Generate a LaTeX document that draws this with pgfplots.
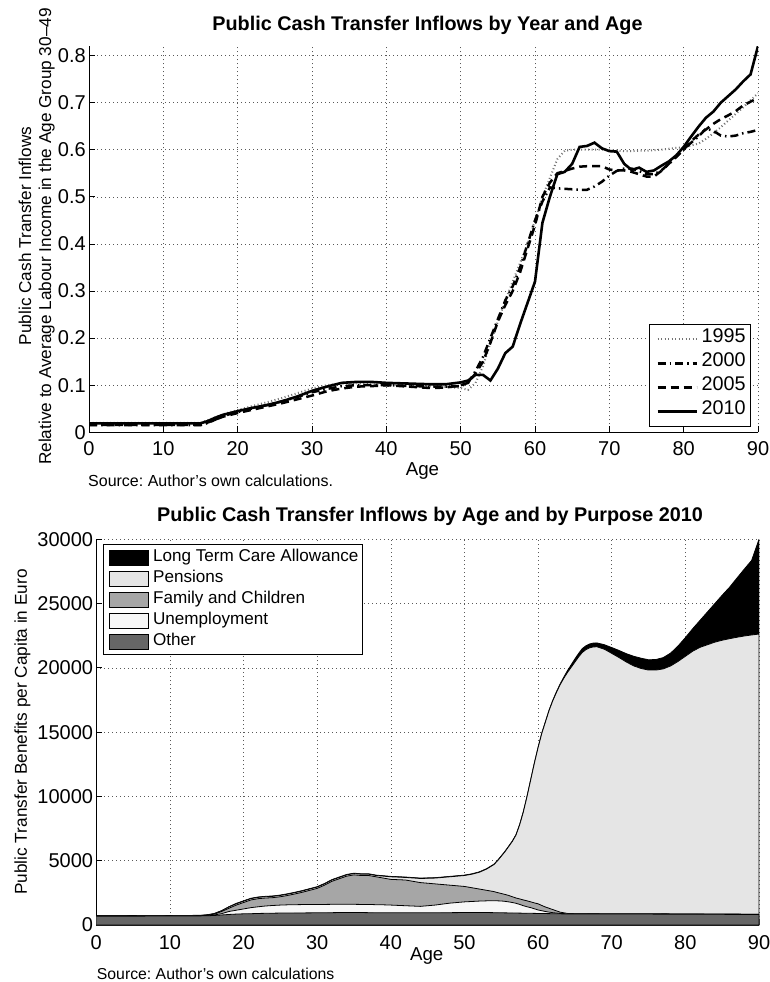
\documentclass[border=0pt]{standalone}
\usepackage{fontspec}
\setmainfont{Liberation Sans}
\usepackage{pgfplots}
\usepackage{pgfplotstable}
\pgfplotsset{compat=1.18}
\frenchspacing

\pgfplotstableread{
age y1995 y2000 y2005 y2010
0 0.020 0.015 0.016 0.019
15 0.020 0.015 0.016 0.019
16 0.026 0.020 0.021 0.024
17 0.032 0.027 0.027 0.031
18 0.038 0.034 0.033 0.037
19 0.043 0.039 0.037 0.041
20 0.047 0.043 0.041 0.045
22 0.056 0.051 0.048 0.052
24 0.064 0.058 0.055 0.058
26 0.073 0.066 0.062 0.066
28 0.083 0.075 0.070 0.076
30 0.093 0.085 0.078 0.088
32 0.100 0.092 0.087 0.097
34 0.104 0.098 0.093 0.105
36 0.104 0.100 0.097 0.107
38 0.102 0.100 0.098 0.107
40 0.100 0.100 0.100 0.105
42 0.100 0.099 0.098 0.104
44 0.099 0.098 0.096 0.103
46 0.098 0.097 0.094 0.102
48 0.096 0.097 0.095 0.102
50 0.094 0.098 0.100 0.106
51 0.090 0.105 0.105 0.110
52 0.105 0.130 0.125 0.122
53 0.140 0.160 0.150 0.122
54 0.190 0.200 0.190 0.110
55 0.235 0.240 0.235 0.135
56 0.280 0.280 0.270 0.168
57 0.320 0.310 0.300 0.182
58 0.360 0.350 0.340 0.230
59 0.400 0.400 0.390 0.275
60 0.450 0.450 0.440 0.320
61 0.500 0.490 0.500 0.445
62 0.540 0.520 0.530 0.500
63 0.580 0.518 0.550 0.548
64 0.598 0.517 0.555 0.553
65 0.600 0.516 0.560 0.570
66 0.600 0.515 0.564 0.606
67 0.600 0.515 0.565 0.608
68 0.600 0.522 0.565 0.615
69 0.600 0.532 0.565 0.603
70 0.600 0.545 0.558 0.597
71 0.598 0.555 0.556 0.596
72 0.597 0.560 0.556 0.570
73 0.597 0.560 0.553 0.557
74 0.598 0.555 0.548 0.562
75 0.598 0.548 0.543 0.553
76 0.599 0.548 0.543 0.556
77 0.600 0.556 0.555 0.566
78 0.602 0.570 0.570 0.575
79 0.604 0.585 0.585 0.588
80 0.605 0.600 0.600 0.606
81 0.609 0.615 0.618 0.628
82 0.613 0.628 0.632 0.649
83 0.623 0.645 0.643 0.668
84 0.635 0.640 0.655 0.681
85 0.648 0.630 0.665 0.700
86 0.662 0.628 0.673 0.714
87 0.676 0.630 0.682 0.728
88 0.690 0.635 0.694 0.745
89 0.705 0.638 0.702 0.760
90 0.720 0.642 0.710 0.820
}\topdata

% cumulative tops: O=Other, U=+Unemployment, F=+Family, P=+Pensions, L=+Long term care
\pgfplotstableread{
age O U F P L
0 680 690 700 710 720
5 690 700 710 720 730
10 700 710 720 730 740
14 710 720 730 740 750
15 720 740 760 780 790
16 740 780 840 880 890
17 780 880 1050 1100 1110
18 820 1050 1300 1400 1420
19 850 1150 1550 1650 1680
20 870 1250 1750 1850 1880
21 880 1350 1950 2050 2080
22 900 1420 2050 2150 2180
23 910 1480 2100 2200 2230
24 920 1520 2130 2230 2260
25 930 1550 2200 2300 2330
26 930 1570 2300 2400 2430
27 935 1580 2420 2520 2550
28 940 1590 2550 2650 2680
29 945 1600 2700 2800 2830
30 950 1600 2850 2950 2980
31 950 1600 3100 3200 3230
32 960 1610 3400 3500 3530
33 970 1610 3600 3700 3730
34 980 1610 3800 3900 3930
35 980 1610 3900 4000 4030
36 970 1600 3850 3950 3980
37 960 1600 3850 3950 3980
38 950 1580 3750 3850 3880
39 950 1570 3650 3800 3830
40 950 1550 3550 3750 3780
42 950 1500 3500 3700 3730
44 950 1450 3300 3620 3650
46 950 1550 3200 3650 3680
48 960 1700 3100 3750 3780
50 970 1800 3000 3850 3880
51 975 1830 2900 3950 3980
52 980 1860 2800 4100 4130
53 970 1880 2700 4350 4380
54 960 1890 2600 4700 4730
54.5 955 1880 2520 5000 5030
55 950 1870 2450 5350 5380
55.5 945 1840 2380 5700 5730
56 940 1800 2300 6100 6130
56.5 935 1750 2200 6500 6530
57 930 1690 2100 7000 7030
57.5 925 1600 2030 7800 7830
58 920 1500 1950 8800 8830
58.5 915 1420 1880 10000 10030
59 910 1350 1800 11300 11330
59.5 905 1260 1720 12600 12630
60 900 1170 1650 13800 13830
60.5 895 1110 1520 14900 14930
61 890 1050 1400 15800 15830
61.5 885 1000 1300 16700 16730
62 880 960 1200 17450 17490
62.5 875 930 1100 18100 18150
63 870 900 1000 18700 18760
63.5 865 885 950 19200 19290
64 860 875 900 19650 19800
64.5 860 872 890 20050 20250
65 860 870 880 20450 20700
65.5 859 869 879 20850 21120
66 858 868 878 21200 21500
66.5 857 867 877 21420 21720
67 856 866 876 21560 21860
67.5 856 866 876 21630 21930
68 855 865 875 21640 21940
69 853 863 873 21450 21800
70 850 860 870 21130 21580
71 850 860 870 20800 21350
72 850 860 870 20450 21100
73 850 860 870 20150 20900
74 850 860 870 19950 20750
75 850 860 870 19830 20630
76 848 858 868 19830 20650
77 846 856 866 19920 20800
78 844 854 864 20150 21150
79 842 852 862 20500 21700
80 840 850 860 20900 22350
81 838 848 858 21300 23050
82 836 846 856 21600 23700
83 834 844 854 21800 24350
84 832 842 852 22000 25000
85 830 840 850 22150 25650
86 828 838 848 22270 26270
87 826 836 846 22380 26980
88 824 834 844 22480 27680
89 822 832 842 22560 28360
90 820 830 840 22630 30000
}\bottomdata

\pgfplotsset{
  matlab/.style={
    scale only axis,
    axis x line*=bottom, axis y line*=left,
    axis line style={-, line width=0.8pt},
    tick align=inside, major tick length=6pt,
    tick style={line width=0.8pt, black},
    grid=major,
    grid style={dash pattern=on 1pt off 3pt, black!65, line width=0.6pt},
    tick label style={font=\fontsize{20}{24}\selectfont},
    /pgf/number format/assume math mode=true,
    /pgf/number format/1000 sep={},
    xmin=0, xmax=90, xtick={0,10,...,90},
    yticklabel style={inner sep=0pt, anchor=east, xshift=-3pt},
  }
}

\begin{document}
\begin{tikzpicture}
\useasboundingbox (0pt,0pt) rectangle (769pt,-982pt);

% ---------- top chart ----------
\begin{axis}[matlab,
  at={(89pt,-432.3pt)}, anchor=south west,
  width=669pt, height=386.2pt,
  ymin=0, ymax=0.82, ytick={0,0.1,0.2,0.3,0.4,0.5,0.6,0.7,0.8},
  xticklabel style={inner sep=0pt, anchor=north, yshift=-9pt},
  legend style={at={(1,0)}, anchor=south east, xshift=-7pt, yshift=5.6pt,
    draw=black, line width=0.8pt, fill=white,
    inner xsep=5pt, inner ysep=3pt, row sep=0pt,
    font=\fontsize{19.8}{24}\selectfont,
    nodes={inner sep=0pt, text height=15.5pt, text depth=8.5pt}, cells={anchor=west}},
  legend image code/.code={\path[draw=none,fill=none] (0pt,0pt) -- (47pt,0pt); \draw[#1] (3pt,0pt) -- (42pt,0pt);},
]
\addplot[black!55, line width=2pt, dash pattern=on 1pt off 2.5pt] table[x=age,y=y1995]{\topdata};
\addlegendentry{1995}
\addplot[black, line width=2.5pt, dash pattern=on 8pt off 4pt on 1.5pt off 4pt] table[x=age,y=y2000]{\topdata};
\addlegendentry{2000}
\addplot[black, line width=2.5pt, dash pattern=on 8pt off 5pt] table[x=age,y=y2005]{\topdata};
\addlegendentry{2005}
\addplot[black, line width=2.6pt] table[x=age,y=y2010]{\topdata};
\addlegendentry{2010}
\end{axis}

\node[inner sep=0pt, anchor=base, font=\fontsize{19.8}{24}\selectfont\bfseries] at (427.5pt,-31pt) {Public Cash Transfer Inflows by Year and Age};
\node[inner sep=0pt, anchor=base, font=\fontsize{18.7}{22}\selectfont] at (422.5pt,-475.5pt) {Age};
\node[inner sep=0pt, anchor=base west, font=\fontsize{16}{19}\selectfont] at (88pt,-486.5pt) {Source: Author’s own calculations.};
\node[inner sep=0pt, anchor=base, rotate=90, font=\fontsize{17.2}{20}\selectfont] at (31pt,-236pt) {Public Cash Transfer Inflows};
\node[inner sep=0pt, anchor=base, rotate=90, font=\fontsize{17.2}{20}\selectfont] at (51pt,-236.5pt) {Relative to Average Labour Income in the Age Group 30–49};

% ---------- bottom chart ----------
\begin{axis}[matlab,
  at={(96.3pt,-925pt)}, anchor=south west,
  width=662.7pt, height=385.7pt,
  ymin=0, ymax=30000, ytick={0,5000,...,30000},
  scaled y ticks=false,
  xticklabel style={inner sep=0pt, anchor=north, yshift=-10.5pt},
  legend style={at={(0,1)}, anchor=north west, xshift=6.4pt, yshift=-5pt,
    draw=black, line width=0.8pt, fill=white,
    inner xsep=4.3pt, inner ysep=2.5pt, row sep=0pt,
    font=\fontsize{17.1}{20.5}\selectfont,
    nodes={inner sep=0pt, text height=14pt, text depth=7pt}, cells={anchor=west}},
  legend image code/.code={\path[draw=none,fill=none] (0pt,0pt) -- (45.7pt,0pt); \draw[#1] (2pt,-7.5pt) rectangle (41pt,7.5pt);},
]
\addplot[fill=black, draw=black, line width=0.8pt] table[x=age,y=L]{\bottomdata} \closedcycle;
\addlegendentry{Long Term Care Allowance}
\addplot[fill=black!10, draw=black, line width=0.8pt] table[x=age,y=P]{\bottomdata} \closedcycle;
\addlegendentry{Pensions}
\addplot[fill=black!35, draw=black, line width=0.8pt] table[x=age,y=F]{\bottomdata} \closedcycle;
\addlegendentry{Family and Children}
\addplot[fill=black!3, draw=black, line width=0.8pt] table[x=age,y=U]{\bottomdata} \closedcycle;
\addlegendentry{Unemployment}
\addplot[fill=black!60, draw=black, line width=0.8pt] table[x=age,y=O]{\bottomdata} \closedcycle;
\addlegendentry{Other}
\end{axis}

\node[inner sep=0pt, anchor=base, font=\fontsize{19.8}{24}\selectfont\bfseries] at (430pt,-521pt) {Public Cash Transfer Inflows by Age and by Purpose 2010};
\node[inner sep=0pt, anchor=base, font=\fontsize{18.7}{22}\selectfont] at (426.7pt,-960pt) {Age};
\node[inner sep=0pt, anchor=base west, font=\fontsize{15.8}{19}\selectfont] at (96.7pt,-979.5pt) {Source: Author’s own calculations};
\node[inner sep=0pt, anchor=base, rotate=90, font=\fontsize{17.2}{20}\selectfont] at (27pt,-732pt) {Public Transfer Benefits per Capita in Euro};
\end{tikzpicture}
\end{document}
